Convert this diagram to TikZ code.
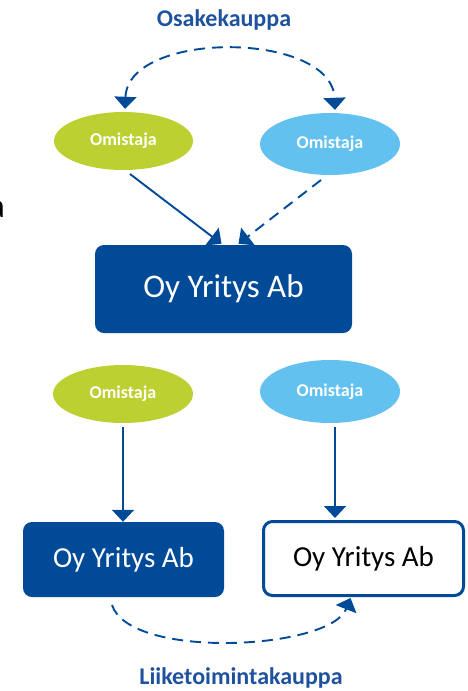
\documentclass[tikz,border=0pt]{standalone}
\usepackage{fontspec}
\setmainfont{Carlito}
\usetikzlibrary{arrows.meta,calc,shapes.geometric}
\definecolor{dblue}{RGB}{0,74,152}
\definecolor{tblue}{RGB}{31,82,158}
\definecolor{lgreen}{RGB}{188,208,49}
\definecolor{lblue}{RGB}{99,193,240}
\tikzset{
  own/.style={ellipse, inner sep=0pt, text=white, font=\fontsize{18}{18}\selectfont\bfseries},
  firm/.style={rectangle, rounded corners=9pt, inner sep=0pt, font=\fontsize{29}{29}\selectfont},
  conn/.style={draw=dblue, line width=1.9pt, -{Triangle[width=22pt,length=12pt]}},
  dconn/.style={conn, dash pattern=on 11pt off 7pt},
  ttl/.style={text=tblue, font=\fontsize{24}{24}\selectfont\bfseries}
}
\begin{document}
\begin{tikzpicture}[x=1pt,y=-1pt]
\useasboundingbox (0,0) rectangle (468,691);
\begin{scope}
\clip (0,0) rectangle (468,691);
\node[anchor=base east, inner sep=0pt, font=\fontsize{34}{34}\selectfont] (stray) at (5,217) {a};
\end{scope}
\node[ttl] (t1) at (224,20) {Osakekauppa};
\node[ttl] (t2) at (241,678) {Liiketoimintakauppa};
% top ellipses
\node[own, fill=lgreen, minimum width=139pt, minimum height=58pt] (g1) at (123.5,141) {Omistaja};
\node[own, fill=lblue, minimum width=140pt, minimum height=62pt] (b1) at (330,144) {Omistaja};
% big box
\node[firm, fill=dblue, text=white, minimum width=257pt, minimum height=88pt, font=\fontsize{33}{33}\selectfont] (big) at (223.5,289) {Oy Yritys Ab};
% bottom ellipses
\node[own, fill=lgreen, minimum width=140pt, minimum height=58pt] (g2) at (123,394) {Omistaja};
\node[own, fill=lblue, minimum width=140pt, minimum height=63pt] (b2) at (330,391.5) {Omistaja};
% bottom boxes
\node[firm, fill=dblue, text=white, minimum width=201pt, minimum height=75pt] (lbox) at (123.5,559.5) {Oy Yritys Ab};
\node[firm, fill=white, draw=dblue, line width=3pt, text=black, minimum width=200pt, minimum height=74pt] (rbox) at (363.5,558.5) {Oy Yritys Ab};
% top dashed double arrow
\coordinate (ga) at ($(g1.north)+(1.5,-3)$);
\coordinate (ba) at ($(b1.north)+(5,-3)$);
\draw[dconn, {Triangle[width=22pt,length=12pt]}-{Triangle[width=22pt,length=12pt]}] (ga) .. controls ($(ga)+(3,-79)$) and ($(ba)+(-3,-79)$) .. (ba);
% arrows into big box
\coordinate (s1) at (130,174);
\coordinate (s2) at (321,180);
\draw[conn] (s1) -- ($(big.north)+(-2,-1)$);
\draw[dconn] (s2) -- ($(big.north)+(15,-1)$);
% vertical arrows
\coordinate (s3) at (123,427);
\coordinate (s4) at (335,427);
\draw[conn] (s3) -- (s3 |- lbox.north) ;
\draw[conn] (s4) -- ($(s4 |- rbox.north)+(0,-2)$);
% bottom dashed arrow
\coordinate (s5) at (112,605);
\draw[dconn] (s5) .. controls (130,660) and (330,650) .. ($(rbox.south)+(-13,1)$);
\end{tikzpicture}
\end{document}
